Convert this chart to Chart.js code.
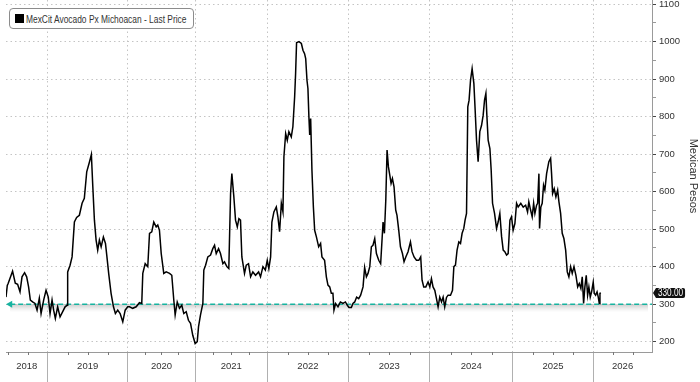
<!DOCTYPE html>
<html><head><meta charset="utf-8">
<script src="https://cdn.jsdelivr.net/npm/chart.js@4/dist/chart.umd.min.js"></script>
<style>
html,body{margin:0;padding:0;background:#fff;}
#wrap{position:relative;width:700px;height:382px;overflow:hidden;}
#legend{position:absolute;left:9px;top:8px;width:185px;height:21px;box-sizing:border-box;border:1px solid #8c8c8c;border-radius:4px;background:#fff;
  color:#333;display:flex;align-items:center;padding:0 0 0 5px;white-space:nowrap;overflow:hidden;}
#legend i{display:inline-block;flex:none;width:9px;height:9px;background:#000;margin-right:2px;}
#legend span{display:inline-block;font:10.5px "Liberation Sans",Arial,sans-serif;transform:scaleX(0.8);transform-origin:left center;}
</style></head>
<body><div id="wrap"><canvas id="c" width="700" height="382"></canvas><div id="legend"><i></i><span id="lt"></span></div></div>
<script>
const seriesName = 'MexCit Avocado Px Michoacan - Last Price';
const axisTitle = 'Mexican Pesos';
// observation time in weeks from start of series (mid-2018)
const weeks = [0,0.8,1.4,4.1,5.8,7.25,8.75,10,11.6,12.9,14.1,15.2,16.6,18.1,19.4,20.8,21.9,23.5,25,26.4,27.5,28.75,29.75,30.8,32.25,33.75,35.4,36.9,38.1,38.5,40,41.25,42.7,44.1,45.8,47.5,48.9,50.4,52.1,53.3,54.1,55.2,56.25,57.25,58.3,59.4,60.8,62.1,62.9,64.1,65.6,67.1,68.3,69.75,71.25,72.9,74.4,76,77.1,79.1,81.25,83.3,84.75,85.4,86.9,88.5,89.6,91,92.25,93.75,94.75,95.8,96.9,98.5,100,102.1,103.5,104.75,105.6,106.9,108.3,109.75,111,112.5,113.9,115.2,116.6,118.1,119.4,120.2,121.4,122.9,123.5,124.6,126,127.7,129.1,130.2,131.25,132.7,133.9,135.4,136.4,137.9,139.1,140.2,141,142.25,143.3,144.4,145.4,146.4,147.25,148.9,150,151.4,152.7,154.1,155.8,157.7,158.9,160.4,161.9,163.1,164.1,165.2,166,167.25,168.75,169.75,170.8,171.9,172.9,173.5,174.6,175.6,176.6,178.1,179.1,180.2,180.8,181.4,182.9,184.4,185.4,186.4,187.1,187.9,188.5,189.1,189.6,190.2,191,191.9,192.7,193.75,195.2,196.4,197.25,198.9,200,201,202.1,203.1,204.1,204.75,205.8,207.25,208.75,210.4,211.9,213.1,214.1,215.6,216.6,217.7,218.9,220.2,221.4,222.9,223.9,225,226,227.1,228.1,229.1,230.2,231.25,232.7,233.9,235.4,236.25,237.1,237.9,238.75,239.6,240.4,241.25,242.25,243.3,244.1,245.2,246.25,247.5,248.5,249.6,251,252.5,253.5,254.75,256.25,257.7,258.9,259.75,260.8,262.1,263.5,264.6,265.6,266.6,267.7,268.75,269.75,270.8,271.9,272.9,273.9,275,276,277.5,278.75,279.6,280.6,281.6,282.7,283.75,284.75,285.8,286.6,287.5,288.3,289.1,290,291,292.1,292.9,293.75,294.75,295.8,296.9,297.9,298.75,299.6,300.2,301,302.1,302.9,303.75,305,306.25,307.25,308.3,309.4,310.4,311.4,312.5,313.5,314.6,315.6,316.6,317.7,318.75,319.75,321.4,322.9,324.4,325.6,326.4,327.5,328.5,329.4,330.2,331.25,331.9,332.7,333.1,333.9,334.75,335.6,336.4,337.5,338.9,340,340.6,341.25,342.25,343.3,344.4,345.2,346.25,347.25,348.3,349.4,350.4,351.4,352.5,353.5,354.6,355.8,356.9,357.9,358.9,359.75,360.6,361.4,362.25,363.1,363.9,364.75,365.6,366.6,367.25,368.1,369,369.75,370.4,370.8,371.4];
const prices = [319,350,356,388,356,353,333,373,384,373,346,311,306,302,284,316,275,311,337,319,275,311,284,262,293,266,280,293,297,386,404,426,519,531,537,569,582,653,679,699,622,524,471,444,471,453,479,462,431,382,329,293,275,284,275,253,284,293,293,289,293,304,302,382,408,400,489,493,519,506,511,497,435,382,386,382,377,311,271,306,289,297,275,280,257,249,217,195,200,240,271,302,391,404,426,431,448,457,435,448,435,408,413,400,395,595,648,586,524,506,528,524,426,382,404,408,373,386,377,386,373,400,391,417,395,426,519,546,559,533,493,569,546,693,755,737,760,746,773,853,915,997,1000,995,977,968,955,897,875,800,751,795,657,559,497,480,453,462,426,417,373,351,346,329,329,284,302,293,306,302,306,297,291,291,302,306,319,315,324,346,398,373,382,400,453,457,475,435,417,408,519,489,577,711,666,644,622,635,613,551,537,497,453,435,413,426,440,466,440,426,417,417,426,364,346,346,359,346,368,346,337,315,293,319,306,319,293,318,324,324,337,400,404,444,466,462,489,502,524,542,826,844,897,928,888,817,737,680,760,777,804,844,862,804,737,715,657,569,542,502,519,542,480,444,440,431,435,524,533,497,515,569,559,569,559,564,546,573,551,533,569,542,564,569,648,502,559,569,617,604,648,680,689,648,595,608,586,604,573,542,489,475,444,386,373,400,382,400,377,346,355,342,373,302,346,377,324,346,319,333,359,329,324,333,319,302,329,330];
const yearLabels = ['2018','2019','2020','2021','2022','2023','2024','2025','2026'];
// week position where each year band starts (first = axis start), plus axis end
const yearStarts = [0,26,76,118.1,163.1,213.9,264.6,316.4,366.6];
const axisEnd = 403.3;
const refLevel = 300;
const refStart = 2.6;
const yMin = 172.5, yMax = 1111;

document.getElementById('lt').textContent = seriesName;
const FONT = '"Liberation Sans",Arial,sans-serif';

const bounds = yearStarts.slice(1);
const centers = yearStarts.map((s,i)=> (s + (i+1<yearStarts.length ? yearStarts[i+1] : axisEnd))/2);
const centerLabel = new Map(centers.map((c,i)=>[c, yearLabels[i]]));
const boundSet = new Set(bounds);

const decor = {
  id:'decor',
  beforeDatasetsDraw(chart){
    const {ctx, chartArea:a, scales:{x,y}} = chart;
    const py = y.getPixelForValue(refLevel);
    const x0 = x.getPixelForValue(refStart);
    const g = ctx.createLinearGradient(0,py,0,py+8);
    g.addColorStop(0,'rgba(160,160,160,0.55)');
    g.addColorStop(1,'rgba(200,200,200,0)');
    ctx.save(); ctx.fillStyle = g; ctx.fillRect(x0, py, a.right - x0 - 4, 8);
    ctx.strokeStyle = '#777'; ctx.lineWidth = 1;
    for (let i=0;i<yearStarts.length;i++){
      const s = yearStarts[i], e = i+1<yearStarts.length ? yearStarts[i+1] : axisEnd;
      const full = (i>0 && i<yearStarts.length-1);
      const span = full ? (e-s) : (yearStarts[2]-yearStarts[1]);
      for (let q=1;q<4;q++){
        const v = i===0 ? e - q*span/4 : s + q*span/4;
        if (v<=0 || v>=axisEnd-1) continue;
        const px = Math.round(x.getPixelForValue(v))+0.5;
        ctx.beginPath(); ctx.moveTo(px, a.bottom); ctx.lineTo(px, a.bottom+3); ctx.stroke();
      }
    }
    ctx.restore();
  },
  afterDraw(chart){
    const {ctx, scales:{y}, chartArea:a} = chart;
    const v = prices[prices.length-1];
    const py = Math.round(y.getPixelForValue(v));
    const txt = v.toFixed(2);
    ctx.save();
    ctx.font = '10px ' + FONT;
    const sx = 0.82;
    const w = ctx.measureText(txt).width * sx + 4;
    const L = a.right + 4, T = py - 5, H = 10, R = 2;
    ctx.fillStyle = '#111';
    ctx.beginPath();
    ctx.moveTo(a.right + 1, py);
    ctx.lineTo(L, T);
    ctx.lineTo(L + w - R, T); ctx.quadraticCurveTo(L + w, T, L + w, T + R);
    ctx.lineTo(L + w, T + H - R); ctx.quadraticCurveTo(L + w, T + H, L + w - R, T + H);
    ctx.lineTo(L, T + H);
    ctx.closePath(); ctx.fill();
    ctx.fillStyle = '#fff'; ctx.textBaseline = 'middle'; ctx.textAlign = 'left';
    ctx.translate(L + 2, py + 0.5); ctx.scale(sx, 1);
    ctx.fillText(txt, 0, 0);
    ctx.restore();
  }
};

new Chart(document.getElementById('c'), {
  type: 'line',
  data: { datasets: [
    { label: seriesName, data: weeks.map((w,i)=>({x:w, y:prices[i]})), borderColor:'#000', borderWidth:1.5,
      pointRadius:0, tension:0, fill:false, order:1 },
    { label: 'ref', data: [{x:refStart, y:refLevel},{x:axisEnd, y:refLevel}], borderColor:'#17b3a0', backgroundColor:'#17b3a0',
      borderWidth:1.6, borderDash:[5,3], pointRadius:[2.5,0], pointStyle:'triangle', rotation:-90, order:2 }
  ]},
  options: {
    responsive:false, animation:false, events:[],
    layout:{ autoPadding:false, padding:{ left:6, right:0, top:0, bottom:0 } },
    plugins:{ legend:{display:false}, tooltip:{enabled:false} },
    scales:{
      x:{ type:'linear', min:0, max:axisEnd,
        afterBuildTicks: s => { s.ticks = [...bounds, ...centers].sort((a,b)=>a-b).map(v=>({value:v})); },
        afterFit: s => { s.height = 30; s.paddingLeft = 0; s.paddingRight = 0; s.paddingTop = 0; s.paddingBottom = 0; },
        ticks:{ autoSkip:false, maxRotation:0, padding:-21, color:'#333', font:{family:FONT, size:9.5},
          callback: v => centerLabel.has(v) ? centerLabel.get(v) : '' },
        grid:{ drawOnChartArea:true, tickLength:30,
          color: c => (c.tick && boundSet.has(c.tick.value)) ? '#c4c4c4' : 'rgba(0,0,0,0)',
          tickColor: c => (c.tick && boundSet.has(c.tick.value)) ? '#b0b0b0' : 'rgba(0,0,0,0)' },
        border:{ display:true, color:'#9a9a9a', dash:[1.5,3] }
      },
      y:{ position:'right', min:yMin, max:yMax,
        afterBuildTicks: s => { const t=[]; for(let v=200; v<=1100; v+=50) t.push({value:v}); s.ticks=t; },
        afterFit: s => { s.width = 48; s.paddingTop = 0; s.paddingBottom = 0; s.paddingLeft = 0; s.paddingRight = 0; },
        ticks:{ padding:3, color:'#333', font:{family:FONT, size:9.5},
          callback: v => v % 100 === 0 ? String(v) : '' },
        grid:{ tickLength:4,
          color: c => (c.tick && c.tick.value % 100 === 0) ? '#c4c4c4' : 'rgba(0,0,0,0)',
          tickColor: c => (c.tick && c.tick.value % 100 === 0) ? '#444' : '#999' },
        border:{ display:true, color:'#9a9a9a', dash:[1.5,3] },
        title:{ display:true, text:axisTitle, color:'#333', font:{family:FONT, size:11}, padding:{top:0,bottom:3} }
      }
    }
  },
  plugins:[decor]
});
</script>
</body></html>
